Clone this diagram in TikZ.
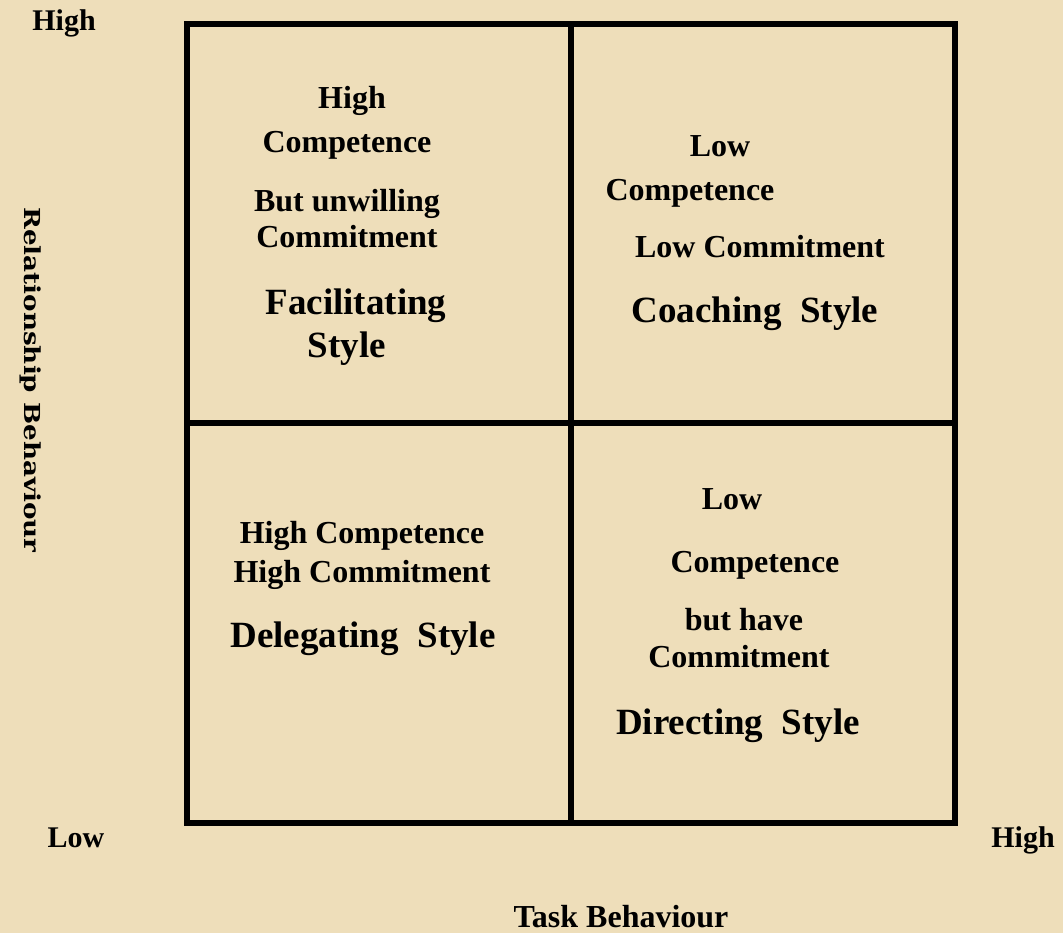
\documentclass[tikz,border=0pt]{standalone}
\usepackage{fontspec}
\setmainfont{Liberation Serif}
\newfontfamily\relfont[FakeStretch=1.19]{DejaVu Serif}
\definecolor{parchment}{RGB}{238,222,186}
\tikzset{
  cell/.style={line width=6pt},
  txt/.style={font=\bfseries\fontsize{32}{38}\selectfont, inner sep=0pt, anchor=base},
  styletxt/.style={font=\bfseries\fontsize{37}{44}\selectfont, inner sep=0pt, anchor=base},
  axis/.style={font=\bfseries\fontsize{30}{36}\selectfont, inner sep=0pt, anchor=base}
}
\begin{document}
\begin{tikzpicture}[x=1pt,y=-1pt]
    \fill[parchment] (0,0) rectangle (1063,933);
    \useasboundingbox (0,0) rectangle (1063,933);
    \draw[cell] (187,24) rectangle (571,423);
    \draw[cell] (571,24) rectangle (955,423);
    \draw[cell] (187,423) rectangle (571,823);
    \draw[cell] (571,423) rectangle (955,823);
    % top left
    \node[txt] (fhigh) at (352,109) {High};
    \node[txt] (fcomp) at (347,153) {Competence};
    \node[txt] (fbut) at (347,212) {But unwilling};
    \node[txt] (fcommit) at (347,248) {Commitment};
    \node[styletxt] (ffac) at (356,315) {Facilitating};
    \node[styletxt] (fstyle) at (347,357) {Style};
    % top right
    \node[txt] (clow) at (720,157) {Low};
    \node[txt] (ccomp) at (690,201) {Competence};
    \node[txt] (ccommit) at (760,258) {Low Commitment};
    \node[styletxt] (cstyle) at (755,323) {Coaching\ \ Style};
    % bottom left
    \node[txt] (dcomp) at (362,543) {High Competence};
    \node[txt] (dcommit) at (362,582) {High Commitment};
    \node[styletxt] (dstyle) at (363,647) {Delegating\ \ Style};
    % bottom right
    \node[txt] (rlow) at (732,509) {Low};
    \node[txt] (rcomp) at (755,572) {Competence};
    \node[txt] (rbut) at (744,630) {but have};
    \node[txt] (rcommit) at (739,667) {Commitment};
    \node[styletxt] (rstyle) at (738,734) {Directing\ \ Style};
    % axes
    \node[axis] (yhigh) at (64,31) {High};
    \node[axis] (ylow) at (76,847) {Low};
    \node[axis] (xhigh) at (1023,847) {High};
    \node[txt] (xlabel) at (621,927) {Task Behaviour};
    \node[inner sep=0pt, rotate=-90, font=\relfont\bfseries\fontsize{22}{26}\selectfont] (ylabel) at (31,380) {Relationship Behaviour};
\end{tikzpicture}
\end{document}
